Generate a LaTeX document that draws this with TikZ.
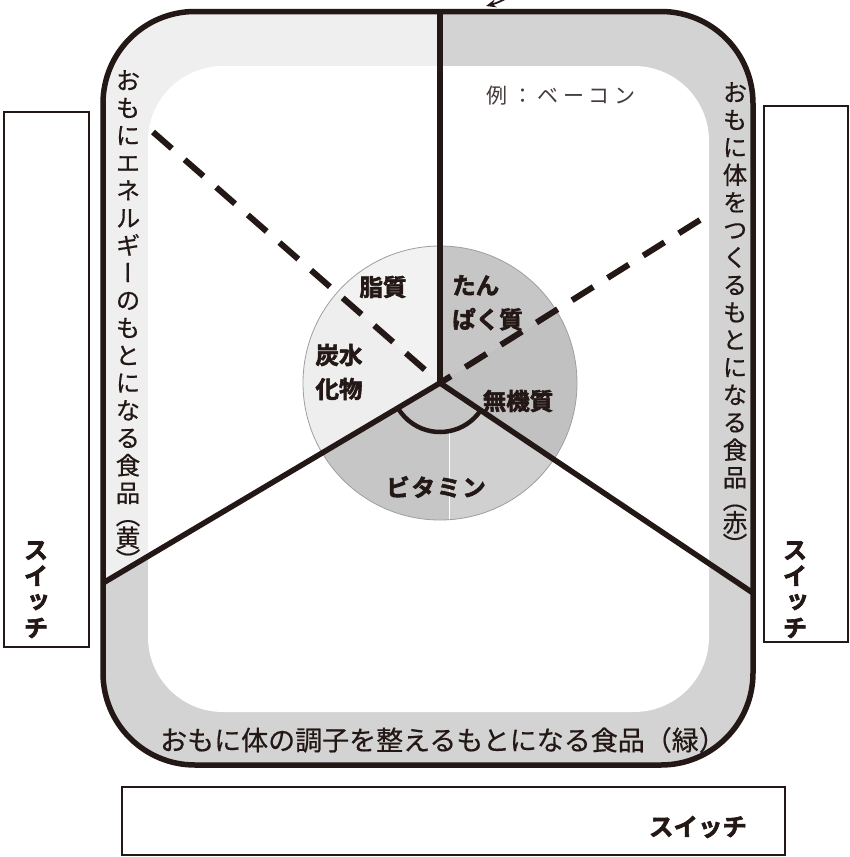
\documentclass[tikz,border=0pt]{standalone}
\usepackage{fontspec}
\setmainfont{Noto Sans CJK JP}
\newfontfamily\jp{Noto Sans CJK JP}[FakeBold=0.5]
\newfontfamily\jpex{Noto Sans CJK JP}
\newfontfamily\jpb{Noto Sans CJK JP}[UprightFont={* Bold}, FakeBold=2.5]
\newfontfamily\jpv{Noto Sans CJK JP}[RawFeature=+vert, FakeBold=0.5]
\newfontfamily\jpvb{Noto Sans CJK JP}[UprightFont={* Bold}, FakeBold=2.5, RawFeature=+vert]
\usetikzlibrary{arrows.meta,calc}
\definecolor{ink}{HTML}{231815}
\definecolor{bandgray}{HTML}{D3D3D3}
\definecolor{bandlight}{HTML}{EFEFEF}
\definecolor{seclight}{HTML}{EEEEEE}
\definecolor{seclighter}{HTML}{F2F2F2}
\definecolor{secgray}{HTML}{C6C6C6}
\definecolor{secgraylight}{HTML}{D0D0D0}
\definecolor{secdark}{HTML}{C1C1C1}
\tikzset{
  solidline/.style={draw=ink, line width=5.5pt},
  dashline/.style={draw=ink, line width=6pt, dash pattern=on 25pt off 17pt},
  nutrient/.style={font=\jpb\fontsize{23.5}{34}\selectfont, text=ink, inner sep=0pt},
  vband/.style={font=\jpv\fontsize{24.5}{27.5}\selectfont, text=ink, align=center, inner sep=0pt, anchor=north},
  switchbox/.style={draw=ink, line width=1.4pt, fill=white},
  switchv/.style={font=\jpvb\fontsize{24.5}{26}\selectfont, text=ink, align=center, inner sep=0pt, anchor=north},
  outerround/.style={rounded corners=92pt},
  innerround/.style={rounded corners=75pt},
}
\begin{document}
\begin{tikzpicture}[x=1pt,y=-1pt]
\useasboundingbox (0,0) rectangle (849,857);

% key points
\coordinate (C) at (440,383);
\coordinate (T) at (440,11.5);
\coordinate (UL) at (153,132);
\coordinate (UR) at (700,220);
\coordinate (LL) at (103,583);
\coordinate (LR) at (753,593);

% switch boxes
\draw[switchbox] (4,112) rectangle (89,647);
\draw[switchbox] (764,106) rectangle (848,642);
\draw[switchbox] (122,787) rectangle (785,855);
\node[switchv] (swL) at (36,541) {ス\\イ\\ッ\\チ};
\node[switchv] (swR) at (795,541) {ス\\イ\\ッ\\チ};
\node[font=\jpb\fontsize{24.5}{24}\selectfont, text=ink, inner sep=0pt] (swB) at (698,827) {スイッチ};

% frame band
\fill[bandgray, outerround] (103,11.5) rectangle (753,765);
\begin{scope}
  \clip[outerround] (103,11.5) rectangle (753,765);
  \fill[bandlight] (C) -- (440,-5) -- (-5,-5) -- (-5,644) -- cycle;
\end{scope}
\fill[white, innerround] (148,66) rectangle (709,712);

% circle sectors
\begin{scope}
  \clip (C) circle[radius=137];
  \fill[secgray] (C) -- (T) -- (UR) -- cycle;
  \fill[secdark] (C) -- (UR) -- (800,400) -- (LR) -- cycle;
  \fill[secgray] (C) -- (LR) -- (600,700) -- (300,700) -- (LL) -- cycle;
  \fill[secgraylight] (449,700) -- ($(C)+(79.4:49)$) arc[start angle=79.4, end angle=33.9, radius=49] -- (LR) -- (753,700) -- cycle;
  \fill[seclight] (C) -- (LL) -- (UL) -- cycle;
  \fill[seclighter] (C) -- (UL) -- (T) -- cycle;
  \draw[white, line width=0.8pt] (449,432) -- (449,540);
\end{scope}
\draw[gray!75, line width=0.8pt] (C) circle[radius=137];

% dividing lines
\draw[dashline] (UL) -- (C);
\draw[dashline] (UR) -- (C);
\draw[solidline] (T) -- (C);
\draw[solidline] (LL) -- (C);
\draw[solidline] (LR) -- (C);
\draw[ink, line width=4.5pt] ($(C)+(33.9:49)$) arc[start angle=33.9, end angle=149.3, radius=49];

% frame outline
\draw[ink, line width=5.5pt, outerround] (103,11.5) rectangle (753,765);

% top arrow fragment
\coordinate (arS) at (512,-5);
\coordinate (arE) at (486,6);
\draw[ink, line width=1.8pt, -{Stealth[length=10pt,width=8pt]}] (arS) to[bend left=8] (arE);

% labels in circle
\node[nutrient] (lipid) at (383,287) {脂質};
\node[nutrient, align=left, anchor=north west] (protein) at (452,275) {たん\\ぱく質};
\node[nutrient, align=center] (carb) at (339,372) {炭水\\化物};
\node[nutrient] (mineral) at (518,401) {無機質};
\node[nutrient, font=\jpb\fontsize{23.5}{34}\selectfont\addfontfeature{LetterSpace=8}] (vitamin) at (436,487) {ビタミン};

% example
\node[font=\jpex\fontsize{21}{21}\selectfont\addfontfeature{LetterSpace=22}, text=ink!85, inner sep=0pt] (example) at (561,96) {例：ベーコン};

% band labels
\node[vband] (yellow) at (128,70) {お\\も\\に\\エ\\ネ\\ル\\ギ\\ー\\の\\も\\と\\に\\な\\る\\食\\品\\[-5pt]（\\[-5pt]黄\\[-5pt]）};
\node[vband] (red) at (735,82) {お\\も\\に\\体\\を\\つ\\く\\る\\も\\と\\に\\な\\る\\食\\品\\[-5pt]（\\[-5pt]赤\\[-5pt]）};
\node[font=\jp\fontsize{27}{27}\selectfont, text=ink, inner sep=0pt] (green) at (443,740) {おもに体の調子を整えるもとになる食品（緑）};
\end{tikzpicture}
\end{document}
